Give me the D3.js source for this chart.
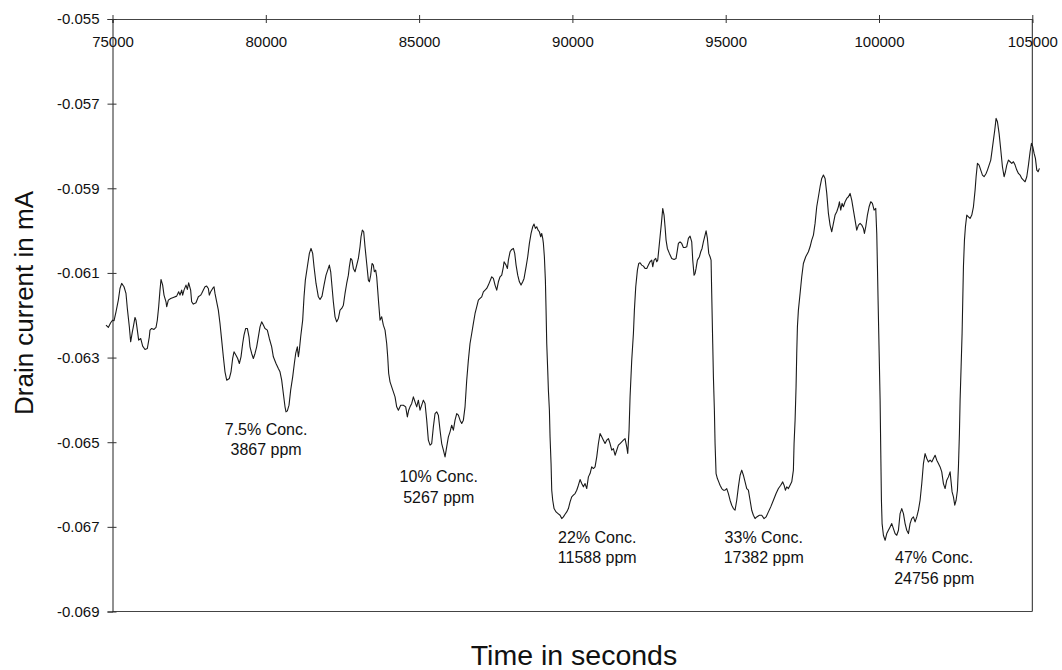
<!DOCTYPE html>
<html>
<head>
<meta charset="utf-8">
<script src="https://cdn.jsdelivr.net/npm/d3@7"></script>
<style>
  html, body { margin: 0; padding: 0; background: #fff; }
  svg { display: block; }
</style>
</head>
<body>
<svg id="chart" width="1062" height="670"></svg>
<script>
// ---------------- DATA ----------------
const xTicks = [75000, 80000, 85000, 90000, 95000, 100000, 105000];
const yTicks = [-0.055, -0.057, -0.059, -0.061, -0.063, -0.065, -0.067, -0.069];
const xTitle = "Time in seconds";
const yTitle = "Drain current in mA";

// annotation labels (two lines each) and their anchor in data units
const annotLine1 = ["7.5% Conc.", "10% Conc.", "22% Conc.", "33% Conc.", "47% Conc."];
const annotLine2 = ["3867 ppm", "5267 ppm", "11588 ppm", "17382 ppm", "24756 ppm"];
const annotTime = [80010, 85640, 90810, 96240, 101800];
const annotCurrent = [-0.06469, -0.06582, -0.06725, -0.06725, -0.06773];

// trace: [time (s), drain current (mA)]
const trace = [
[74788,-0.062233],[74864,-0.062289],[74940,-0.062178],[75005,-0.062115],[75049,-0.062131],[75114,-0.061918],[75190,-0.061642],[75244,-0.061367],[75299,-0.061248],[75375,-0.061327],
[75440,-0.061485],[75484,-0.061839],[75549,-0.062273],[75592,-0.062627],[75647,-0.062391],[75679,-0.062273],[75734,-0.062052],[75766,-0.062115],[75810,-0.062352],[75853,-0.062588],
[75919,-0.062549],[75984,-0.062730],[76060,-0.062809],[76136,-0.062785],[76201,-0.062509],[76223,-0.062352],[76277,-0.062312],[76353,-0.062336],[76419,-0.062289],[76462,-0.062115],
[76506,-0.061800],[76549,-0.061406],[76582,-0.061154],[76636,-0.061288],[76680,-0.061524],[76745,-0.061682],[76767,-0.061800],[76821,-0.061642],[76897,-0.061603],[76984,-0.061579],
[77093,-0.061548],[77158,-0.061445],[77202,-0.061524],[77256,-0.061406],[77289,-0.061524],[77332,-0.061406],[77397,-0.061288],[77441,-0.061390],[77484,-0.061233],[77549,-0.061406],
[77582,-0.061682],[77636,-0.061737],[77723,-0.061705],[77800,-0.061564],[77876,-0.061524],[77908,-0.061485],[77963,-0.061406],[78017,-0.061327],[78071,-0.061311],[78126,-0.061367],
[78158,-0.061524],[78202,-0.061445],[78267,-0.061367],[78311,-0.061327],[78343,-0.061485],[78398,-0.061682],[78452,-0.061879],[78506,-0.062194],[78561,-0.062588],[78615,-0.062982],
[78669,-0.063337],[78724,-0.063534],[78811,-0.063494],[78865,-0.063337],[78919,-0.063021],[78963,-0.062864],[79028,-0.062943],[79083,-0.063021],[79137,-0.063140],[79191,-0.062982],
[79246,-0.062667],[79289,-0.062470],[79344,-0.062312],[79398,-0.062312],[79452,-0.062509],[79485,-0.062746],[79539,-0.062903],[79594,-0.063021],[79648,-0.062903],[79702,-0.062746],
[79757,-0.062509],[79811,-0.062273],[79865,-0.062155],[79920,-0.062233],[79974,-0.062312],[80050,-0.062352],[80115,-0.062549],[80192,-0.062746],[80246,-0.062982],[80333,-0.063140],
[80409,-0.063258],[80463,-0.063337],[80518,-0.063534],[80572,-0.063849],[80627,-0.064164],[80659,-0.064282],[80703,-0.064259],[80757,-0.064125],[80811,-0.063770],[80877,-0.063455],
[80931,-0.063140],[80975,-0.062903],
[81029,-0.062746],[81062,-0.062982],[81094,-0.062825],[81138,-0.062509],[81203,-0.062115],[81247,-0.061564],[81290,-0.061170],[81355,-0.060855],[81421,-0.060539],[81475,-0.060421],
[81529,-0.060539],[81573,-0.060855],[81638,-0.061249],[81714,-0.061564],[81769,-0.061627],[81834,-0.061548],[81899,-0.061288],[81964,-0.061052],[82019,-0.060933],[82073,-0.060815],
[82117,-0.060973],[82160,-0.061327],[82203,-0.061682],[82258,-0.062037],[82312,-0.062155],[82367,-0.062076],[82421,-0.061879],[82475,-0.061840],[82530,-0.061761],[82584,-0.061485],
[82638,-0.061249],[82693,-0.061052],[82725,-0.060855],[82769,-0.060658],[82812,-0.060697],[82856,-0.060894],[82910,-0.060973],[82965,-0.060815],[83019,-0.060658],[83073,-0.060382],
[83106,-0.060145],[83149,-0.059988],[83193,-0.060027],[83236,-0.060382],[83291,-0.060776],[83345,-0.061170],[83378,-0.061209],[83421,-0.061052],[83465,-0.060776],[83508,-0.060815],
[83541,-0.060973],[83584,-0.060933],[83617,-0.061091],[83650,-0.061406],[83682,-0.061721],[83726,-0.062115],[83780,-0.062037],[83834,-0.062234],[83889,-0.062352],[83943,-0.062667],
[83976,-0.062982],[84008,-0.063376],[84052,-0.063573],[84106,-0.063691],[84161,-0.063810],[84215,-0.063928],[84269,-0.064164],[84324,-0.064243],[84400,-0.064125],[84487,-0.064125],
[84563,-0.064164],[84617,-0.064401],[84661,-0.064243],[84704,-0.064164],[84759,-0.064085],[84813,-0.063928],[84867,-0.064046],[84922,-0.064164],[84976,-0.064007],[85030,-0.064243],
[85085,-0.064125],[85139,-0.064007],[85194,-0.064085],[85248,-0.064479],[85302,-0.064952],[85357,-0.065070],[85411,-0.065031],[85465,-0.064637],[85520,-0.064322],[85574,-0.064282],
[85628,-0.064361],[85683,-0.064716],[85737,-0.065031],[85792,-0.065189],[85846,-0.065346],[85900,-0.065110],[85955,-0.064873],[86009,-0.064755],[86063,-0.064598],[86118,-0.064716],
[86172,-0.064479],[86227,-0.064322],[86281,-0.064361],[86335,-0.064479],[86390,-0.064558],[86444,-0.064479],[86498,-0.064164],[86553,-0.063534],[86607,-0.063061],[86661,-0.062667],
[86716,-0.062431],[86770,-0.062194],[86825,-0.061958],[86879,-0.061800],[86933,-0.061643],[86988,-0.061603],[87042,-0.061564],[87096,-0.061446],[87151,-0.061406],[87205,-0.061367],
[87259,-0.061288],
[87369,-0.061091],[87423,-0.061130],[87477,-0.061288],[87532,-0.061406],[87586,-0.061209],[87640,-0.061091],[87695,-0.061052],[87749,-0.060855],[87771,-0.060736],[87836,-0.060815],
[87880,-0.060894],[87912,-0.060697],[87967,-0.060500],[88021,-0.060445],[88075,-0.060421],[88119,-0.060539],[88163,-0.060815],[88217,-0.061052],[88271,-0.061209],[88325,-0.061288],
[88380,-0.061209],[88423,-0.061130],[88489,-0.060855],[88543,-0.060618],[88597,-0.060303],[88652,-0.060067],[88706,-0.059909],[88749,-0.059846],[88793,-0.059948],[88836,-0.059909],
[88880,-0.059988],[88923,-0.060027],[88967,-0.060145],[88999,-0.060067],[89032,-0.060185],[89054,-0.060303],[89086,-0.060618],[89119,-0.061170],[89141,-0.061879],[89163,-0.062667],
[89195,-0.063297],[89217,-0.063770],[89250,-0.064243],[89271,-0.064873],[89304,-0.065504],[89326,-0.066134],[89358,-0.066371],[89402,-0.066568],[89467,-0.066647],[89532,-0.066686],
[89598,-0.066725],[89652,-0.066804],[89706,-0.066765],[89761,-0.066702],[89815,-0.066647],[89869,-0.066568],[89924,-0.066410],[89978,-0.066292],[90032,-0.066252],[90087,-0.066213],
[90141,-0.066134],[90196,-0.066016],[90250,-0.065882],[90304,-0.065977],[90359,-0.066055],[90413,-0.065977],[90467,-0.066095],[90522,-0.065819],[90576,-0.065740],[90630,-0.065583],
[90685,-0.065622],[90739,-0.065583],[90794,-0.065346],[90848,-0.065031],[90902,-0.064795],[90957,-0.064873],[91011,-0.064952],[91065,-0.065031],[91120,-0.064952],[91174,-0.064913],
[91228,-0.065031],[91283,-0.065189],[91337,-0.065149],[91392,-0.065307],[91446,-0.065189],[91500,-0.065070],[91555,-0.065031],[91609,-0.064992],[91663,-0.064952],[91718,-0.064913],
[91772,-0.065110],[91805,-0.065267],[91848,-0.064716],[91881,-0.063928],[91935,-0.063061],[91990,-0.062431],[92022,-0.061879],[92066,-0.061327],[92120,-0.060933],[92164,-0.060776],
[92207,-0.060760],[92261,-0.060815],[92316,-0.060839],[92370,-0.060894],[92425,-0.060894],[92479,-0.060815],[92533,-0.060736],[92588,-0.060697],[92620,-0.060855],[92664,-0.060697],
[92718,-0.060658],[92751,-0.060736],[92783,-0.060697],[92816,-0.060461],[92859,-0.060145],[92903,-0.059830],[92946,-0.059476],
[92989,-0.059633],[93022,-0.059909],[93055,-0.060224],[93098,-0.060421],[93163,-0.060539],[93240,-0.060658],[93316,-0.060681],[93381,-0.060658],[93424,-0.060461],[93457,-0.060303],
[93511,-0.060264],[93566,-0.060303],[93620,-0.060398],[93674,-0.060398],[93729,-0.060382],[93783,-0.060185],[93838,-0.060130],[93892,-0.060264],[93925,-0.060697],[93968,-0.061052],
[94001,-0.061012],[94033,-0.060894],[94077,-0.060697],[94142,-0.060618],[94186,-0.060500],[94229,-0.060421],[94272,-0.060264],[94327,-0.060106],[94360,-0.060004],[94403,-0.060185],
[94447,-0.060539],[94490,-0.060618],[94523,-0.060697],[94544,-0.061485],[94577,-0.062667],[94599,-0.063455],[94631,-0.064243],[94653,-0.065031],[94686,-0.065740],[94729,-0.065858],
[94773,-0.065937],[94816,-0.066016],[94871,-0.066095],[94925,-0.066134],[94979,-0.066134],[95034,-0.066095],[95088,-0.066213],[95142,-0.066371],[95197,-0.066489],[95251,-0.066568],
[95305,-0.066607],[95360,-0.066371],[95414,-0.066055],[95469,-0.065780],[95523,-0.065661],[95577,-0.065780],[95632,-0.065937],[95686,-0.066095],[95740,-0.066134],[95795,-0.066371],
[95849,-0.066607],[95903,-0.066725],[95958,-0.066804],[96012,-0.066765],[96099,-0.066725],[96175,-0.066725],[96251,-0.066804],[96317,-0.066765],[96393,-0.066646],[96469,-0.066528],
[96556,-0.066371],[96643,-0.066213],[96719,-0.066095],[96795,-0.066016],[96860,-0.065937],[96904,-0.066016],[96947,-0.066134],[96991,-0.066055],[97045,-0.066095],[97099,-0.066016],
[97154,-0.065937],[97208,-0.065661],[97230,-0.065031],[97263,-0.064479],[97295,-0.063691],[97317,-0.062903],[97339,-0.062273],[97371,-0.061879],[97426,-0.061485],[97480,-0.061091],
[97534,-0.060776],[97610,-0.060618],[97697,-0.060500],[97752,-0.060382],[97806,-0.060224],[97861,-0.060106],[97915,-0.059830],[97969,-0.059436],[98024,-0.059200],[98078,-0.058963],
[98132,-0.058766],[98187,-0.058688],[98241,-0.058766],[98296,-0.059121],[98350,-0.059594],[98404,-0.059870],[98459,-0.060027],[98513,-0.059830],[98567,-0.059633],[98622,-0.059554],
[98676,-0.059436],[98709,-0.059318],[98752,-0.059515],[98796,-0.059357],[98839,-0.059436],[98894,-0.059318],[98948,-0.059239],[99002,-0.059200],[99057,-0.059121],[99111,-0.059279],
[99165,-0.059515],[99220,-0.059751],[99274,-0.059988],[99329,-0.059870],[99383,-0.059830],
[99438,-0.059870],[99492,-0.059949],[99525,-0.060067],[99568,-0.059909],[99622,-0.059634],[99677,-0.059437],[99731,-0.059318],[99785,-0.059358],[99840,-0.059515],[99894,-0.059476],
[99927,-0.060067],[99949,-0.060855],[99970,-0.061643],[99992,-0.062431],[100014,-0.063219],[100036,-0.064007],[100057,-0.065189],[100079,-0.066371],[100101,-0.066923],[100144,-0.067198],
[100199,-0.067317],[100253,-0.067159],[100307,-0.067080],[100362,-0.067001],[100416,-0.066923],[100470,-0.067041],[100525,-0.067159],[100579,-0.067198],[100634,-0.067080],[100688,-0.066686],
[100742,-0.066568],[100797,-0.066686],[100851,-0.066923],[100905,-0.067080],[100960,-0.067159],[101014,-0.066923],[101068,-0.066804],[101123,-0.066765],[101177,-0.066883],[101232,-0.066765],
[101286,-0.066607],[101340,-0.066371],[101395,-0.065977],[101449,-0.065504],[101503,-0.065268],[101558,-0.065386],[101612,-0.065465],[101667,-0.065425],[101721,-0.065465],[101775,-0.065386],
[101830,-0.065307],[101884,-0.065425],[101938,-0.065504],[101993,-0.065583],[102047,-0.065701],[102101,-0.065977],[102156,-0.066095],[102210,-0.065898],[102265,-0.065819],[102319,-0.065701],
[102352,-0.065938],[102384,-0.066174],[102428,-0.066292],[102471,-0.066489],[102515,-0.066371],[102558,-0.066134],[102591,-0.065583],[102623,-0.064795],[102645,-0.064007],[102678,-0.063219],
[102710,-0.062431],[102732,-0.061643],[102754,-0.060855],[102787,-0.060225],[102819,-0.059909],[102863,-0.059634],[102917,-0.059673],[102971,-0.059712],[103026,-0.059634],[103080,-0.059437],
[103134,-0.059043],[103167,-0.058727],[103211,-0.058412],[103265,-0.058452],[103319,-0.058570],[103374,-0.058688],[103428,-0.058727],[103493,-0.058649],[103537,-0.058570],[103591,-0.058452],
[103645,-0.058333],[103689,-0.058097],[103732,-0.057861],[103776,-0.057624],[103819,-0.057348],[103863,-0.057427],[103917,-0.057703],[103972,-0.058097],[104026,-0.058491],[104080,-0.058727],
[104124,-0.058609],[104167,-0.058452],[104222,-0.058333],[104276,-0.058373],[104330,-0.058412],[104385,-0.058373],[104439,-0.058452],[104494,-0.058570],[104548,-0.058649],[104602,-0.058688],
[104657,-0.058767],[104711,-0.058806],[104765,-0.058846],[104820,-0.058727],[104874,-0.058452],[104928,-0.058136],[104972,-0.057939],[105015,-0.058018],[105059,-0.058176],[105102,-0.058294],
[105146,-0.058570],[105189,-0.058609],[105233,-0.058530]
];

// ---------------- DRAW ----------------
const FONT = "'Liberation Sans', Arial, Helvetica, sans-serif";
const svg = d3.select("#chart");

const x = d3.scaleLinear().domain([75000, 105000]).range([112.5, 1032.3]);
const y = d3.scaleLinear().domain([-0.069, -0.055]).range([611.5, 19]);

// frame (right and bottom edges)
svg.append("line")
  .attr("x1", x(105000)).attr("x2", x(105000))
  .attr("y1", y(-0.055)).attr("y2", y(-0.069))
  .attr("stroke", "#222").attr("stroke-width", 1);
svg.append("line")
  .attr("x1", x(75000)).attr("x2", x(105000))
  .attr("y1", y(-0.069)).attr("y2", y(-0.069))
  .attr("stroke", "#444").attr("stroke-width", 1);

// top x axis, labels inside the plot
const gx = svg.append("g")
  .attr("transform", `translate(0,${y(-0.055)})`)
  .call(d3.axisBottom(x).tickValues(xTicks).tickSizeOuter(0).tickSize(4)
        .tickFormat(d => String(d)));
gx.select(".domain").attr("stroke", "#444");
gx.selectAll(".tick line").attr("y1", -4).attr("y2", 4).attr("stroke", "#333");
gx.selectAll(".tick text").attr("y", 17).attr("dy", "0.71em")
  .attr("font-family", FONT).attr("font-size", 15).attr("fill", "#111");

// left y axis
const gy = svg.append("g")
  .attr("transform", `translate(${x(75000)},0)`)
  .call(d3.axisLeft(y).tickValues(yTicks).tickSizeOuter(0).tickSize(5).tickPadding(8)
        .tickFormat(d => d.toFixed(3)));
gy.select(".domain").attr("stroke", "#222");
gy.selectAll(".tick line").attr("x1", 4).attr("x2", -5).attr("stroke", "#333");
gy.selectAll(".tick text")
  .attr("font-family", FONT).attr("font-size", 15).attr("fill", "#111");

// trace
svg.append("path")
  .datum(trace)
  .attr("fill", "none")
  .attr("stroke", "#1a1a1a")
  .attr("stroke-width", 1.1)
  .attr("stroke-linejoin", "round")
  .attr("d", d3.line().x(d => x(d[0])).y(d => y(d[1])));

// annotations
const ann = svg.append("g").attr("font-family", FONT).attr("font-size", 16)
  .attr("fill", "#111").attr("text-anchor", "middle");
annotLine1.forEach((t, i) => {
  const ax = x(annotTime[i]), ay = y(annotCurrent[i]);
  ann.append("text").attr("x", ax).attr("y", ay + 5.5).text(t);
  ann.append("text").attr("x", ax).attr("y", ay + 26).text(annotLine2[i]);
});

// axis titles
svg.append("text")
  .attr("x", 574).attr("y", 665)
  .attr("text-anchor", "middle")
  .attr("font-family", FONT).attr("font-size", 28.5).attr("fill", "#111")
  .text(xTitle);
svg.append("text")
  .attr("transform", "translate(33,303) rotate(-90)")
  .attr("text-anchor", "middle")
  .attr("font-family", FONT).attr("font-size", 26).attr("fill", "#111")
  .text(yTitle);
</script>
</body>
</html>
